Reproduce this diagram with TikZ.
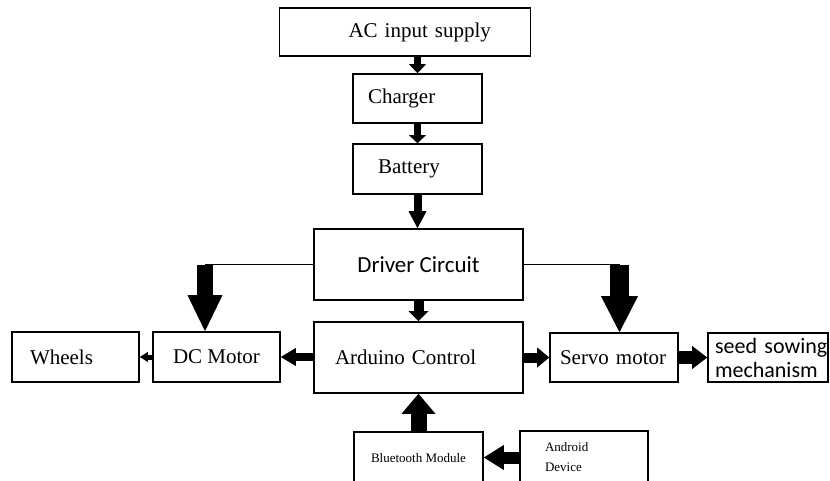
\documentclass[tikz,border=0pt]{standalone}
\usepackage{fontspec}
\setmainfont{Liberation Serif}
\newfontfamily\carlito{Carlito}
\usepackage{tikz}
\usetikzlibrary{arrows.meta}

\begin{document}
\begin{tikzpicture}[x=1pt,y=-1pt,
	box/.style={draw, line width=1.6pt, inner sep=0pt, align=center, font=\fontsize{21}{24}\selectfont},
	lefttext/.style n args={2}{align=left, inner xsep=#1, text width=#2},
	fat/.style n args={3}{line width=#1, -{Triangle[length=#2,width=#3,line width=0pt]}}]
	\useasboundingbox (0,0) rectangle (830,481);
	
	\node[box, minimum width=251pt, minimum height=48pt, lefttext={69pt}{113pt}] (ac) at (405,32) {\mbox{AC input supply}};
	\node[box, minimum width=129pt, minimum height=49pt, lefttext={15pt}{99pt}] (charger) at (417.5,98.5) {Charger};
	\node[box, minimum width=129pt, minimum height=50pt, lefttext={25pt}{79pt}] (battery) at (417.5,169) {Battery};
	\node[box, minimum width=209pt, minimum height=71pt, font={\carlito\fontsize{23}{25}\selectfont}] (driver) at (418.5,264.5) {Driver Circuit};
	\node[box, minimum width=209pt, minimum height=71pt, lefttext={21pt}{167pt}] (arduino) at (418.5,357.5) {Arduino Control};
	\node[box, minimum width=127pt, minimum height=50pt] (dcmotor) at (216.5,357) {DC Motor};
	\node[box, minimum width=127pt, minimum height=50pt, lefttext={18pt}{91pt}] (wheels) at (75.5,357) {Wheels};
	\node[box, minimum width=128pt, minimum height=49pt, lefttext={10pt}{108pt}] (servo) at (614,357.5) {Servo motor};
	\node[box, minimum width=120pt, minimum height=49pt, lefttext={7pt}{106pt}, font={\carlito\fontsize{22}{24}\selectfont}] (seed) at (768,357.5) {\mbox{seed sowing}\\mechanism};
	\node[box, minimum width=129pt, minimum height=52pt, font=\fontsize{13}{20}\selectfont] (bt) at (418.5,458) {Bluetooth Module};
	\node[box, minimum width=128pt, minimum height=53pt, lefttext={25pt}{78pt}, font=\fontsize{13}{20}\selectfont] (android) at (584,457.5) {Android\\Device};
	
	\draw[fat={7pt}{9pt}{17pt}] (ac.south -| charger.north) -- (charger.north);
	\draw[fat={7pt}{8pt}{17pt}] (charger.south) -- (battery.north);
	\draw[fat={8pt}{17pt}{18pt}] (battery.south) -- (driver.north -| battery.south);
	\draw[fat={10pt}{10pt}{20pt}] (driver.south) -- (arduino.north);
	\draw[fat={8pt}{15pt}{18pt}] (arduino.west |- dcmotor.east) -- (dcmotor.east);
	\draw[fat={5pt}{8pt}{10pt}] (dcmotor.west) -- (wheels.east);
	\draw[fat={10pt}{12pt}{20pt}] (arduino.east |- servo.west) -- (servo.west);
	\draw[fat={13pt}{15pt}{23pt}] (servo.east) -- (seed.west);
	\draw[fat={16pt}{20pt}{34pt}] (bt.north) -- (arduino.south -| bt.north);
	\draw[fat={12pt}{20pt}{25pt}] (android.west) -- (android.west -| bt.east);
	
	\coordinate (dl) at (205,264.5);
	\coordinate (dr) at (619.5,264.5);
	\draw[line width=1.6pt] (driver.west) -- (dl);
	\draw[fat={16pt}{36pt}{35pt}] (dl) -- (dl |- dcmotor.north);
	\draw[line width=1.6pt] (driver.east) -- (dr);
	\draw[fat={19pt}{36pt}{37pt}] (dr) -- (dr |- servo.north);
\end{tikzpicture}
\end{document}
